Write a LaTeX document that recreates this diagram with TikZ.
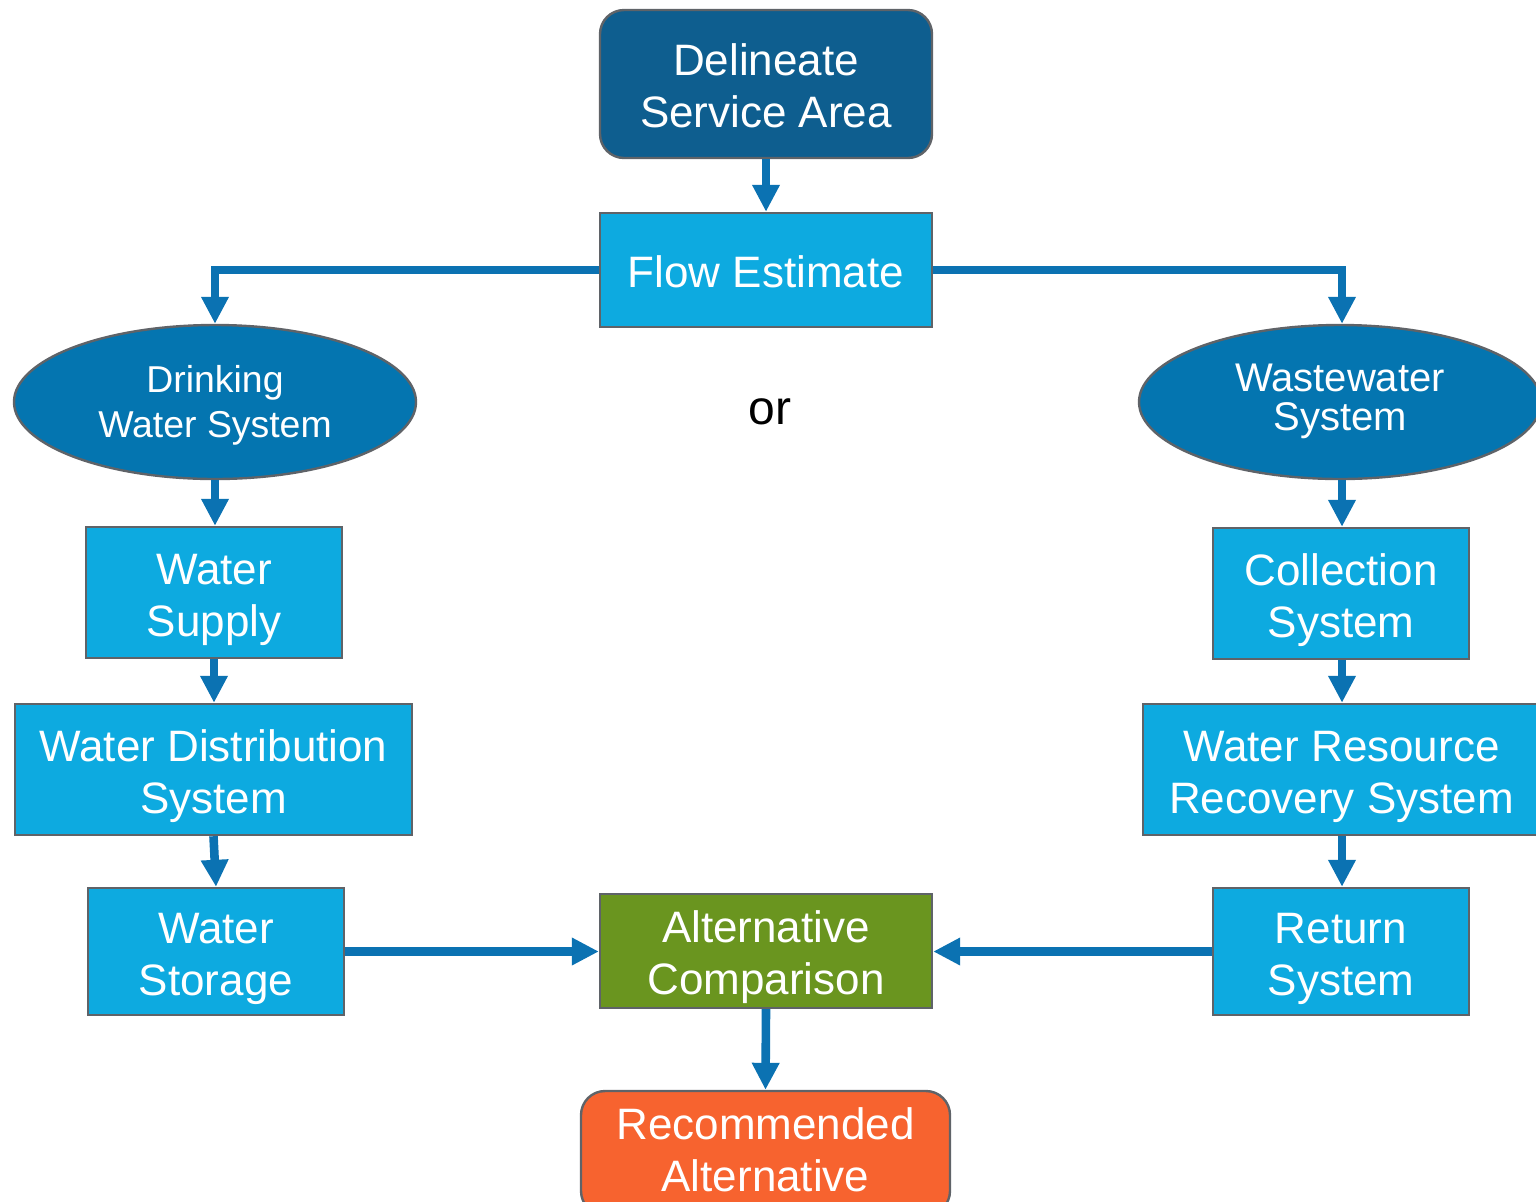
\documentclass[tikz,border=0pt]{standalone}
\usepackage{fontspec}
\setmainfont{Liberation Sans}
\usetikzlibrary{shapes.geometric,arrows.meta}
\definecolor{darkblue}{RGB}{14,94,143}
\definecolor{lightblue}{RGB}{13,170,224}
\definecolor{midblue}{RGB}{4,117,176}
\definecolor{arrowblue}{RGB}{11,114,178}
\definecolor{altgreen}{RGB}{106,149,31}
\definecolor{recorange}{RGB}{247,99,47}
\definecolor{edgegray}{RGB}{95,99,104}
% top strut of given height, bottom strut of given depth (in em)
\newcommand{\tp}[1]{\rule{0pt}{#1em}}
\newcommand{\bt}[1]{\rule[-#1em]{0pt}{0pt}}
\tikzset{
  box/.style={draw=edgegray, line width=1.2pt, fill=lightblue, text=white, align=center, inner sep=0pt,
    font=\fontsize{22pt}{26pt}\selectfont},
  rbox/.style={box, rounded corners=12pt},
  oval/.style={ellipse, draw=edgegray, line width=1.2pt, fill=midblue, text=white, align=center, inner sep=0pt,
    minimum width=201pt, minimum height=77pt},
  conn/.style={draw=arrowblue, line width=4.3pt, -{Triangle[length=13.5pt,width=13pt]}}
}
\begin{document}
\begin{tikzpicture}[x=0.5pt,y=-0.5pt]
\useasboundingbox (0,0) rectangle (1536,1201);
\node[rbox, fill=darkblue, minimum width=166pt, minimum height=74pt] (del) at (766,84) {\tp{1.05}Delineate\\Service Area\bt{0.25}};
\node[box, minimum width=166pt, minimum height=57pt] (flow) at (766,270) {\tp{1.05}Flow Estimate\bt{0.25}};
\node[oval, font=\fontsize{18.7pt}{22.5pt}\selectfont] (dw) at (215,402) {\tp{1.0}Drinking\\Water System\bt{0.28}};
\node[oval, font=\fontsize{20pt}{19.5pt}\selectfont] (ww) at (1340,402) {\tp{0.8}Wastewater\\System\bt{0.34}};
\node[font=\fontsize{24pt}{28pt}\selectfont] (or) at (770,412) {or};
\node[box, minimum width=128pt, minimum height=65.5pt] (sup) at (214,592.5) {\tp{1.05}Water\\Supply\bt{0.25}};
\node[box, minimum width=198.5pt, minimum height=65.5pt] (dist) at (213.5,769.5) {\tp{1.05}Water Distribution\\System\bt{0.25}};
\node[box, minimum width=128pt, minimum height=63.5pt] (stor) at (216,951.5) {\tp{1.05}Water\\Storage\bt{0.25}};
\node[box, minimum width=128pt, minimum height=65.5pt] (coll) at (1341,593.5) {\tp{1.05}Collection\\System\bt{0.25}};
\node[box, minimum width=198.5pt, minimum height=65.5pt] (wrr) at (1341.5,769.5) {\tp{1.05}Water Resource\\Recovery System\bt{0.25}};
\node[box, minimum width=128pt, minimum height=63.5pt] (ret) at (1341,951.5) {\tp{1.05}Return\\System\bt{0.25}};
\node[box, fill=altgreen, minimum width=166pt, minimum height=57pt] (alt) at (766,951) {\tp{1.05}Alternative\\Comparison\bt{0.25}};
\node[rbox, fill=recorange, minimum width=184.5pt, minimum height=62pt] (rec) at (765.5,1153) {\tp{1.05}Recommended\\Alternative\bt{0.48}};
\draw[conn] (del.south) -- (flow.north);
\draw[conn] (flow.west) -| (dw.north);
\draw[conn] (flow.east) -| (ww.north -| 1342,0);
\draw[conn] (dw.south) -- (sup.north -| dw.south);
\draw[conn] (sup.south) -- (dist.north -| sup.south);
\draw[conn] (dist.south) -- (stor.north);
\draw[conn] (stor.east) -- (alt.west |- stor.east);
\draw[conn] (ret.west) -- (alt.east |- ret.west);
\draw[conn] (ww.south -| 1342,0) -- (coll.north -| 1342,0);
\draw[conn] (coll.south -| 1342,0) -- (wrr.north -| 1342,0);
\draw[conn] (wrr.south -| 1342,0) -- (ret.north -| 1342,0);
\draw[conn] (alt.south) -- (rec.north);
\end{tikzpicture}
\end{document}
